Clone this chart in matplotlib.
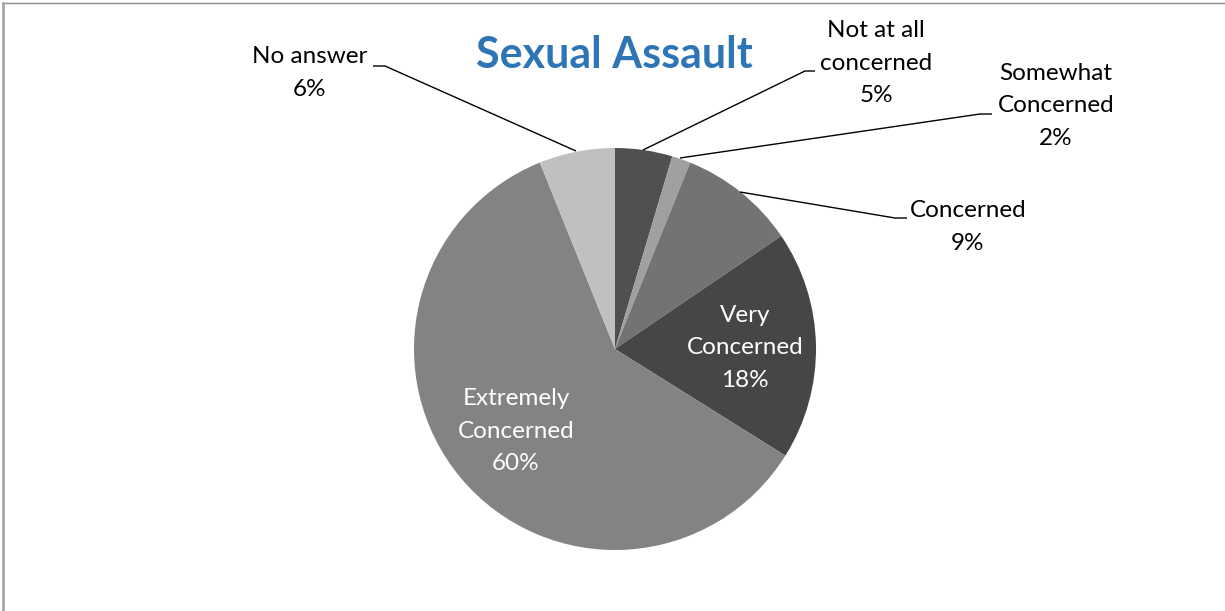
import matplotlib.pyplot as plt
from matplotlib.lines import Line2D

# survey answers, clockwise from 12 o'clock
labels = ["Not at all\nconcerned", "Somewhat\nConcerned", "Concerned",
          "Very\nConcerned", "Extremely\nConcerned", "No answer"]
values = [4.6, 1.5, 9.4, 18.4, 60.0, 6.1]
colors = ["#505050", "#a0a0a0", "#737373", "#464646", "#838383", "#c0c0c0"]

W, H = 1225, 611
plt.rcParams['font.family'] = ['Lato', 'DejaVu Sans']

fig = plt.figure(figsize=(W / 100, H / 100), dpi=100)
ax = fig.add_axes([0, 0, 1, 1])

cx, cy, r = 615, H - 349, 201
ax.pie(values, colors=colors, startangle=90, counterclock=False,
       center=(cx, cy), radius=r, wedgeprops=dict(linewidth=0))
ax.set_xlim(0, W)
ax.set_ylim(0, H)
ax.set_aspect('equal')
ax.axis('off')


def pct(v):
    return f"{int(v + 0.5)}%"


# label block centres and leader lines, in pixels from the top-left corner
text_pos = [(876, 63), (1056, 106), (968, 227), (745, 348), (516, 431), (310, 73)]
text_col = ["black", "black", "black", "white", "white", "black"]
leaders = [
    [(815, 71), (805, 71), (643, 150)],
    [(992, 114), (980, 114), (680, 158)],
    [(907, 218), (895, 218), (740, 192)],
    None,
    None,
    [(373, 66), (385, 66), (576, 151)],
]

for lab, v, (tx, ty), c, ld in zip(labels, values, text_pos, text_col, leaders):
    ax.text(tx, H - ty, f"{lab}\n{pct(v)}", ha='center', va='center',
            fontsize=17.5, color=c, linespacing=1.66)
    if ld:
        ax.plot([p[0] for p in ld], [H - p[1] for p in ld],
                color='black', lw=1.0, solid_capstyle='butt')

ax.text(614, H - 55, "Sexual Assault", ha='center', va='center',
        fontsize=31, fontweight='bold', color='#2e75b6')

# chart frame: thin top edge, heavier left edge
fig.add_artist(Line2D([3 / W, 1], [1 - 3 / H, 1 - 3 / H],
                      transform=fig.transFigure, color='#8c8c8c', lw=1.0))
fig.add_artist(Line2D([2.5 / W, 2.5 / W], [0, 1 - 3 / H],
                      transform=fig.transFigure, color='#a6a6a6', lw=2.0))

fig.savefig("out.png", dpi=100)
